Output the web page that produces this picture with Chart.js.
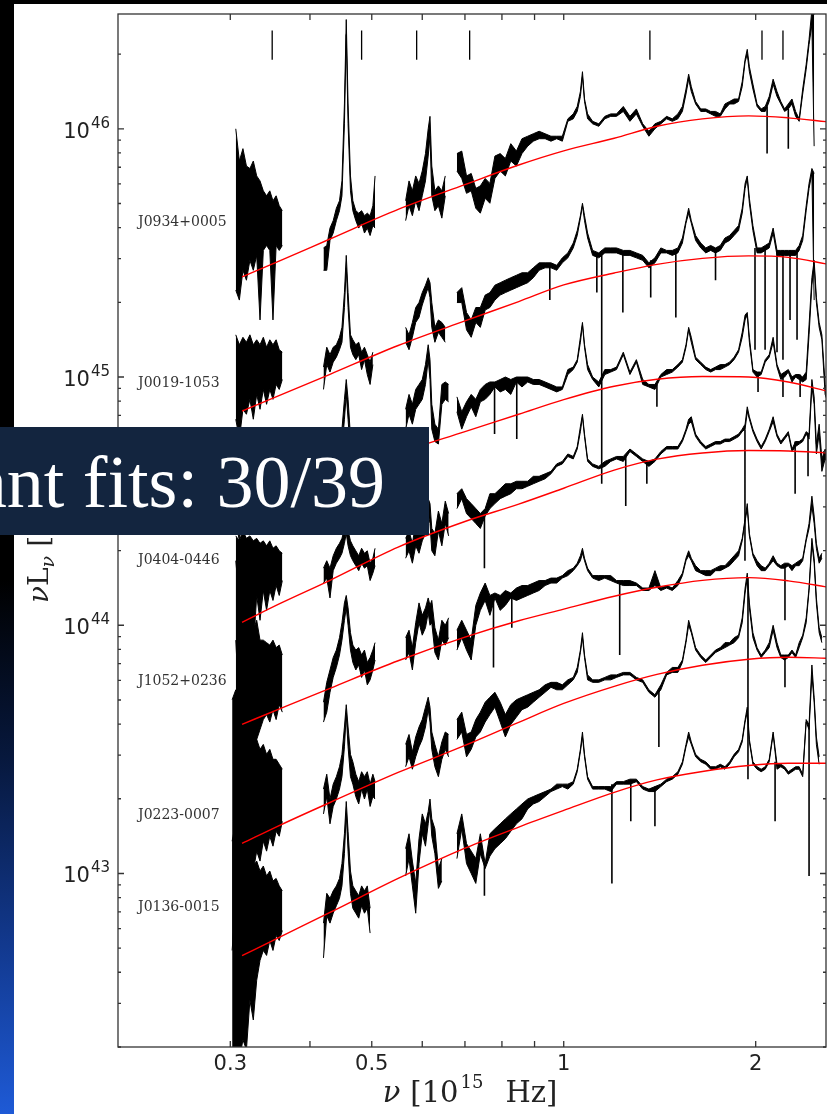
<!DOCTYPE html>
<html lang="en">
<head>
<meta charset="UTF-8">
<script src="https://cdn.jsdelivr.net/npm/chart.js@4.4.0/dist/chart.umd.min.js"></script>
<style>
  html, body { margin: 0; padding: 0; background: #fff; }
  body { width: 827px; height: 1114px; position: relative; overflow: hidden; }
  #sed { position: absolute; left: 0; top: 0; }
  .edge-left {
    position: absolute; left: 0; top: 0; width: 14px; height: 1114px;
    background: linear-gradient(to bottom, #000 0%, #000 52%, #07183d 68%, #12398f 85%, #1e5ad6 100%);
  }
  .edge-top { position: absolute; left: 0; top: 0; width: 827px; height: 4px; background: #000; }
  .banner {
    position: absolute; left: 0; top: 427px; width: 429px; height: 108px;
    background: #13253f; overflow: hidden;
  }
  .banner span {
    position: absolute; right: 44px; top: 18px;
    font: 74px/74px "Liberation Serif", "Times New Roman", serif;
    color: #fff; white-space: nowrap;
  }
</style>
</head>
<body>
<canvas id="sed" width="827" height="1114"></canvas>
<div class="edge-left"></div>
<div class="edge-top"></div>
<div class="banner"><span>Significant fits: 30/39</span></div>

<script>
// rest-frame frequency grid, 10^15 Hz; the single entries 0.39, 0.535 and 0.67
// are gaps between the spectral pieces
const nuGrid = [
  0.302, 0.306, 0.310, 0.314, 0.318, 0.322, 0.326, 0.330, 0.334, 0.338, 0.342, 0.346, 0.350, 0.354, 0.358, 0.362,
  0.39,
  0.420, 0.425, 0.430, 0.435, 0.440, 0.445, 0.449, 0.453, 0.456, 0.459, 0.463, 0.467, 0.472, 0.477, 0.482, 0.487, 0.492, 0.497, 0.502, 0.506,
  0.535,
  0.565, 0.572, 0.579, 0.586, 0.593, 0.600, 0.607, 0.613, 0.617, 0.621, 0.628, 0.636, 0.644, 0.652, 0.660,
  0.670,
  0.680, 0.692, 0.704, 0.716, 0.728, 0.740, 0.753, 0.766, 0.780, 0.795,
  0.810, 0.826, 0.843, 0.860, 0.878, 0.896, 0.915, 0.935, 0.955, 0.975,
  0.995, 1.015, 1.035, 1.050, 1.062, 1.070, 1.078, 1.090, 1.110, 1.135,
  1.160, 1.185, 1.210, 1.240, 1.270, 1.300, 1.330, 1.360, 1.390, 1.420,
  1.450, 1.480, 1.510, 1.535, 1.555, 1.570, 1.585, 1.610, 1.640, 1.670,
  1.700, 1.730, 1.760, 1.790, 1.820, 1.850, 1.880, 1.905, 1.925, 1.940,
  1.955, 1.980, 2.010, 2.040, 2.070, 2.100, 2.130, 2.160, 2.190, 2.220,
  2.250, 2.280, 2.310, 2.340, 2.370, 2.400, 2.425, 2.450, 2.470, 2.490,
  2.515, 2.540, 2.570, 2.600
];

// log10(nu L_nu / erg s^-1): upper (hi) and lower (lo) edge of each noisy spectrum
const hiJ0934 = [
  null, 46.00, 45.87, 45.92, 45.85, 45.84, 45.87, 45.81, 45.79, 45.75, 45.73, 45.75, 45.71, 45.73, 45.69, 45.67,
  null,
  45.52, 45.53, 45.60, 45.63, 45.68, 45.71, 45.79, 46.10, 46.44, 46.10, 45.81, 45.71, 45.67, 45.66, 45.67, 45.65, 45.66, 45.65, 45.69, 45.81,
  null,
  45.71, 45.79, 45.75, 45.81, 45.78, 45.83, 45.90, 46.00, 46.05, 45.85, 45.75, 45.77, 45.75, 45.81, null,
  null,
  45.90, 45.91, 45.81, 45.82, 45.76, 45.77, 45.80, 45.78, 45.89, 45.90,
  45.88, 45.94, 45.91, 45.96, 45.97, 45.98, 45.99, 45.98, 45.97, 45.97,
  45.97, 46.04, 46.06, 46.09, 46.15, 46.23, 46.12, 46.06, 46.03, 46.02,
  46.05, 46.06, 46.06, 46.09, 46.05, 46.08, 46.02, 45.99, 46.02, 46.03,
  46.05, 46.04, 46.06, 46.09, 46.16, 46.22, 46.17, 46.11, 46.08, 46.08,
  46.07, 46.07, 46.06, 46.10, 46.11, 46.12, 46.12, 46.19, 46.28, 46.32,
  46.25, 46.18, 46.10, 46.08, 46.09, 46.13, 46.20, 46.15, 46.11, 46.08,
  46.10, 46.12, 46.07, 46.04, 46.16, 46.26, 46.36, 46.48, 46.46, null,
  null, null, null, null
];
const loJ0934 = [
  null, 45.35, 45.31, 45.43, 45.39, 45.47, 45.43, 45.49, 45.23, 45.51, 45.53, 45.51, 45.23, 45.53, 45.51, 45.53,
  null,
  45.43, 45.43, 45.55, 45.58, 45.63, 45.67, 45.73, 46.02, 46.38, 46.02, 45.75, 45.67, 45.63, 45.60, 45.62, 45.58, 45.60, 45.57, 45.61, 45.60,
  null,
  45.63, 45.69, 45.65, 45.71, 45.67, 45.73, 45.79, 45.89, 45.97, 45.73, 45.67, 45.69, 45.64, 45.73, null,
  null,
  45.83, 45.80, 45.74, 45.75, 45.68, 45.66, 45.72, 45.70, 45.80, 45.83,
  45.81, 45.87, 45.85, 45.90, 45.93, 45.95, 45.96, 45.96, 45.95, 45.96,
  45.95, 46.03, 46.04, 46.07, 46.13, 46.21, 46.11, 46.04, 46.02, 46.01,
  46.04, 46.05, 46.05, 46.07, 46.03, 46.06, 46.01, 45.97, 46.00, 46.02,
  46.04, 46.03, 46.04, 46.07, 46.14, 46.20, 46.15, 46.10, 46.07, 46.07,
  46.06, 46.05, 46.05, 46.08, 46.10, 46.10, 46.11, 46.17, 46.27, 46.30,
  46.23, 46.16, 46.09, 46.07, 46.07, 46.11, 46.18, 46.13, 46.10, 46.07,
  46.08, 46.10, 46.05, 46.03, 46.14, 46.24, 46.34, 46.42, 45.93, null,
  null, null, null, null
];
const hiJ0019 = [
  null, 45.17, 45.13, 45.16, 45.14, 45.17, 45.13, 45.15, 45.13, 45.16, 45.12, 45.15, 45.13, 45.15, 45.11, 45.10,
  null,
  45.04, 45.12, 45.09, 45.12, 45.13, 45.16, 45.20, 45.34, 45.49, 45.34, 45.17, 45.15, 45.13, 45.14, 45.10, 45.12, 45.09, 45.06, 45.10, null,
  null,
  45.20, 45.17, 45.22, 45.28, 45.30, 45.34, 45.37, 45.40, 45.38, 45.30, 45.20, 45.23, 45.22, 45.20, null,
  null,
  45.34, 45.36, 45.26, 45.23, 45.28, 45.28, 45.33, 45.34, 45.37, 45.38,
  45.39, 45.40, 45.41, 45.42, 45.42, 45.44, 45.46, 45.46, 45.46, 45.45,
  45.48, 45.50, 45.54, 45.59, 45.65, 45.70, 45.65, 45.58, 45.51, 45.50,
  45.52, 45.52, 45.52, 45.51, 45.51, 45.50, 45.49, 45.46, 45.48, 45.52,
  45.51, 45.51, 45.52, 45.56, 45.63, 45.68, 45.63, 45.57, 45.54, 45.52,
  45.53, 45.52, 45.53, 45.56, 45.57, 45.59, 45.61, 45.68, 45.78, 45.81,
  45.72, 45.61, 45.52, 45.52, 45.53, 45.54, 45.60, 45.51, 45.51, 45.51,
  45.51, 45.51, 45.51, 45.53, 45.57, 45.69, 45.78, 45.84, 45.82, null,
  null, null, null, null
];
const loJ0019 = [
  null, 44.83, 44.75, 44.87, 44.85, 44.91, 44.83, 44.93, 44.87, 44.95, 44.89, 44.95, 44.91, 44.97, 44.95, 44.99,
  null,
  44.95, 45.05, 45.02, 45.06, 45.08, 45.11, 45.14, 45.28, 45.44, 45.28, 45.12, 45.09, 45.07, 45.09, 45.03, 45.07, 45.01, 44.97, 45.05, null,
  null,
  45.14, 45.11, 45.16, 45.22, 45.24, 45.29, 45.33, 45.36, 45.32, 45.20, 45.14, 45.18, 45.16, 45.14, null,
  null,
  45.30, 45.30, 45.19, 45.16, 45.22, 45.20, 45.27, 45.28, 45.31, 45.33,
  45.34, 45.35, 45.36, 45.37, 45.38, 45.40, 45.43, 45.44, 45.44, 45.43,
  45.46, 45.48, 45.52, 45.57, 45.64, 45.69, 45.63, 45.56, 45.49, 45.48,
  45.50, 45.50, 45.50, 45.49, 45.49, 45.48, 45.47, 45.44, 45.46, 45.50,
  45.50, 45.49, 45.50, 45.54, 45.62, 45.66, 45.62, 45.55, 45.52, 45.50,
  45.51, 45.50, 45.51, 45.54, 45.55, 45.57, 45.59, 45.66, 45.76, 45.80,
  45.70, 45.59, 45.50, 45.50, 45.51, 45.52, 45.58, 45.49, 45.49, 45.49,
  45.49, 45.49, 45.49, 45.51, 45.55, 45.67, 45.76, 45.82, 45.31, null,
  null, null, null, null
];
const hiJ1001 = [
  null, 44.75, 44.71, 44.77, 44.73, 44.75, 44.71, 44.75, 44.71, 44.74, 44.71, 44.75, 44.70, 44.73, 44.69, 44.69,
  null,
  44.63, 44.70, 44.67, 44.71, 44.72, 44.75, 44.79, 44.91, 44.99, 44.91, 44.76, 44.72, 44.71, 44.73, 44.69, 44.71, 44.67, 44.72, 44.70, null,
  null,
  44.87, 44.93, 44.89, 44.95, 44.97, 44.99, 45.05, 45.13, 45.07, 44.89, 44.81, 44.79, 44.97, 44.98, 44.97,
  null,
  44.92, 44.86, 44.90, 44.93, 44.91, 44.95, 44.97, 44.98, 44.98, 44.99,
  45.00, 44.99, 45.00, 45.00, 45.00, 44.99, 44.99, 44.98, 44.97, 44.96,
  44.96, 45.03, 45.04, 45.07, 45.16, 45.22, 45.13, 45.05, 45.00, 44.98,
  45.03, 45.03, 45.04, 45.10, 45.02, 45.07, 44.99, 44.97, 44.97, 45.01,
  45.03, 45.03, 45.05, 45.07, 45.13, 45.20, 45.16, 45.08, 45.06, 45.04,
  45.03, 45.04, 45.05, 45.05, 45.06, 45.08, 45.11, 45.18, 45.25, 45.26,
  45.16, 45.03, 45.02, 45.02, 45.07, 45.09, 45.16, 45.05, 45.01, 45.02,
  45.03, 45.00, 45.01, 45.01, 45.00, 45.02, 45.21, 45.40, 45.47, 45.32,
  45.22, 45.17, 44.97, 44.93
];
const loJ1001 = [
  null, 44.42, 44.34, 44.48, 44.44, 44.50, 44.46, 44.52, 44.48, 44.54, 44.50, 44.54, 44.52, 44.56, 44.54, 44.59,
  null,
  44.54, 44.62, 44.59, 44.63, 44.65, 44.68, 44.71, 44.83, 44.93, 44.83, 44.69, 44.65, 44.63, 44.65, 44.60, 44.63, 44.59, 44.65, 44.62, null,
  null,
  44.79, 44.85, 44.81, 44.87, 44.89, 44.91, 44.97, 45.07, 44.99, 44.79, 44.74, 44.73, 44.89, 44.91, 44.90,
  null,
  44.86, 44.79, 44.84, 44.88, 44.84, 44.90, 44.91, 44.93, 44.96, 44.94,
  44.95, 44.93, 44.98, 44.96, 44.98, 44.97, 44.97, 44.96, 44.95, 44.94,
  44.95, 45.01, 45.03, 45.06, 45.14, 45.21, 45.12, 45.03, 44.99, 44.96,
  45.01, 45.02, 45.03, 45.09, 45.01, 45.06, 44.97, 44.96, 44.95, 45.00,
  45.01, 45.02, 45.04, 45.06, 45.12, 45.19, 45.14, 45.07, 45.05, 45.03,
  45.02, 45.03, 45.03, 45.04, 45.05, 45.07, 45.10, 45.16, 45.23, 45.25,
  45.14, 45.02, 45.00, 45.01, 45.06, 45.08, 45.14, 45.04, 44.99, 45.00,
  45.02, 44.98, 45.00, 44.99, 44.98, 44.99, 45.17, 45.37, 45.45, 45.30,
  45.20, 45.15, 44.93, 44.89
];
const hiJ0404 = [
  null, 44.36, 44.34, 44.38, 44.35, 44.36, 44.34, 44.35, 44.33, 44.34, 44.32, 44.34, 44.31, 44.32, 44.30, 44.29,
  null,
  44.23, 44.26, 44.23, 44.28, 44.31, 44.33, 44.35, 44.39, 44.43, 44.38, 44.34, 44.32, 44.30, 44.28, 44.31, 44.29, 44.30, 44.25, 44.27, 44.31,
  null,
  44.35, 44.38, 44.33, 44.41, 44.37, 44.42, 44.45, 44.51, 44.49, 44.39, 44.37, 44.46, 44.41, 44.50, 44.45,
  null,
  44.53, 44.55, 44.51, 44.49, 44.47, 44.45, 44.47, 44.53, 44.53, 44.55,
  44.57, 44.57, 44.58, 44.58, 44.58, 44.60, 44.60, 44.61, 44.62, 44.65,
  44.66, 44.69, 44.68, 44.72, 44.80, 44.85, 44.77, 44.67, 44.65, 44.64,
  44.66, 44.67, 44.68, 44.68, 44.71, 44.69, 44.67, 44.66, 44.67, 44.70,
  44.72, 44.72, 44.72, 44.75, 44.79, 44.83, 44.84, 44.77, 44.74, 44.72,
  44.73, 44.74, 44.74, 44.75, 44.75, 44.76, 44.77, 44.79, 44.81, 44.88,
  44.84, 44.79, 44.75, 44.72, 44.75, 44.79, 44.84, 44.77, 44.74, 44.76,
  44.78, 44.71, 44.74, 44.74, 44.75, 44.78, 44.77, 44.99, 44.92, 44.73,
  44.81, 44.67, 44.71, 44.69
];
const loJ0404 = [
  null, 43.94, 43.66, 44.02, 43.46, 44.10, 43.90, 44.12, 44.02, 44.14, 44.06, 44.14, 44.10, 44.16, 44.12, 44.18,
  null,
  44.17, 44.19, 44.11, 44.22, 44.25, 44.27, 44.29, 44.33, 44.37, 44.32, 44.28, 44.26, 44.24, 44.22, 44.25, 44.23, 44.24, 44.18, 44.21, 44.24,
  null,
  44.27, 44.30, 44.25, 44.32, 44.29, 44.34, 44.37, 44.45, 44.41, 44.30, 44.28, 44.38, 44.32, 44.41, 44.36,
  null,
  44.47, 44.51, 44.45, 44.43, 44.41, 44.39, 44.44, 44.47, 44.49, 44.51,
  44.52, 44.53, 44.55, 44.55, 44.56, 44.57, 44.58, 44.59, 44.61, 44.64,
  44.65, 44.68, 44.67, 44.71, 44.78, 44.84, 44.76, 44.66, 44.64, 44.63,
  44.64, 44.66, 44.67, 44.66, 44.70, 44.68, 44.66, 44.64, 44.66, 44.69,
  44.71, 44.71, 44.71, 44.74, 44.78, 44.81, 44.82, 44.76, 44.73, 44.71,
  44.72, 44.73, 44.73, 44.74, 44.74, 44.75, 44.76, 44.78, 44.79, 44.86,
  44.83, 44.78, 44.74, 44.71, 44.74, 44.78, 44.82, 44.76, 44.73, 44.75,
  44.77, 44.70, 44.72, 44.73, 44.74, 44.77, 44.75, 44.96, 44.89, 44.69,
  44.77, 44.62, 44.67, 44.65
];
const hiJ1052 = [
  null, 44.26, 44.10, 44.18, 44.02, 44.10, 43.98, 44.02, 43.94, 43.94, 43.93, 43.92, 43.94, 43.91, 43.92, 43.88,
  null,
  43.69, 43.77, 43.82, 43.87, 43.90, 43.95, 44.01, 44.09, 44.12, 44.07, 43.97, 43.92, 43.90, 43.91, 43.88, 43.90, 43.85, 43.87, 43.90, 43.93,
  null,
  43.95, 43.98, 43.91, 44.01, 44.09, 44.04, 44.07, 44.11, 44.08, 44.10, 43.99, 43.94, 44.02, 44.00, 44.03,
  null,
  43.98, 44.02, 43.98, 43.94, 44.08, 44.13, 44.17, 44.12, 44.13, 44.12,
  44.14, 44.13, 44.15, 44.16, 44.16, 44.17, 44.18, 44.18, 44.19, 44.19,
  44.20, 44.22, 44.23, 44.25, 44.28, 44.31, 44.27, 44.23, 44.20, 44.20,
  44.20, 44.20, 44.18, 44.18, 44.18, 44.17, 44.15, 44.15, 44.22, 44.15,
  44.16, 44.15, 44.18, 44.21, 44.27, 44.30, 44.27, 44.24, 44.22, 44.22,
  44.22, 44.23, 44.24, 44.24, 44.26, 44.28, 44.30, 44.35, 44.43, 44.49,
  44.37, 44.29, 44.26, 44.24, 44.23, 44.25, 44.28, 44.25, 44.24, 44.25,
  44.25, 44.24, 44.25, 44.26, 44.27, 44.35, 44.41, 44.52, 44.44, 44.33,
  44.27, 44.29, null, null
];
const loJ1052 = [
  null, 43.29, 43.13, 43.38, 43.21, 43.46, 43.33, 43.54, 43.58, 43.62, 43.64, 43.61, 43.66, 43.62, 43.68, 43.65,
  null,
  43.61, 43.65, 43.73, 43.79, 43.83, 43.88, 43.94, 44.02, 44.07, 44.00, 43.90, 43.85, 43.82, 43.84, 43.79, 43.82, 43.76, 43.78, 43.82, 43.86,
  null,
  43.86, 43.89, 43.82, 43.93, 44.01, 43.96, 43.99, 44.05, 44.00, 44.01, 43.89, 43.86, 43.94, 43.92, 43.95,
  null,
  43.90, 43.95, 43.90, 43.86, 44.00, 44.06, 44.10, 44.04, 44.11, 44.06,
  44.08, 44.11, 44.10, 44.11, 44.12, 44.13, 44.14, 44.16, 44.17, 44.17,
  44.19, 44.20, 44.22, 44.24, 44.26, 44.29, 44.26, 44.22, 44.19, 44.18,
  44.19, 44.18, 44.17, 44.16, 44.16, 44.16, 44.14, 44.14, 44.16, 44.14,
  44.15, 44.14, 44.16, 44.20, 44.26, 44.28, 44.26, 44.22, 44.21, 44.20,
  44.20, 44.22, 44.22, 44.23, 44.24, 44.26, 44.28, 44.34, 44.42, 44.47,
  44.36, 44.28, 44.24, 44.22, 44.22, 44.24, 44.26, 44.24, 44.23, 44.23,
  44.24, 44.22, 44.24, 44.24, 44.26, 44.34, 44.39, 44.48, 44.41, 44.31,
  44.25, 44.27, null, null
];
const hiJ0223 = [
  43.70, 43.74, 43.62, 43.70, 43.58, 43.62, 43.54, 43.54, 43.50, 43.52, 43.48, 43.50, 43.46, 43.46, 43.44, 43.42,
  null,
  43.34, 43.40, 43.30, 43.36, 43.39, 43.43, 43.48, 43.59, 43.68, 43.59, 43.48, 43.45, 43.40, 43.37, 43.41, 43.39, 43.41, 43.36, 43.40, 43.37,
  null,
  43.52, 43.56, 43.49, 43.55, 43.59, 43.62, 43.67, 43.71, 43.67, 43.57, 43.52, 43.47, 43.53, 43.57, 43.56,
  null,
  43.62, 43.65, 43.56, 43.57, 43.62, 43.65, 43.69, 43.71, 43.73, 43.69,
  43.64, 43.68, 43.70, 43.71, 43.72, 43.73, 43.74, 43.76, 43.77, 43.77,
  43.76, 43.78, 43.79, 43.83, 43.90, 43.97, 43.88, 43.80, 43.78, 43.78,
  43.79, 43.80, 43.80, 43.81, 43.81, 43.79, 43.78, 43.74, 43.72, 43.76,
  43.81, 43.83, 43.83, 43.86, 43.94, 44.02, 43.98, 43.91, 43.88, 43.86,
  43.88, 43.90, 43.91, 43.93, 43.93, 43.95, 43.96, 44.03, 44.15, 44.21,
  44.09, 43.97, 43.91, 43.88, 43.90, 43.93, 44.00, 43.93, 43.88, 43.88,
  43.88, 43.90, 43.88, 43.93, 43.96, 44.03, 44.15, 44.35, 44.27, 44.11,
  43.99, 43.95, null, null
];
const loJ0223 = [
  42.69, 42.89, 42.65, 42.97, 42.89, 43.05, 43.01, 43.09, 43.05, 43.13, 43.09, 43.15, 43.11, 43.17, 43.15, 43.21,
  null,
  43.24, 43.31, 43.20, 43.27, 43.30, 43.34, 43.39, 43.51, 43.64, 43.51, 43.39, 43.36, 43.31, 43.28, 43.34, 43.30, 43.34, 43.27, 43.31, 43.30,
  null,
  43.43, 43.47, 43.42, 43.47, 43.51, 43.54, 43.59, 43.66, 43.61, 43.50, 43.43, 43.39, 43.46, 43.50, 43.47,
  null,
  43.54, 43.57, 43.47, 43.50, 43.55, 43.57, 43.61, 43.64, 43.67, 43.61,
  43.55, 43.60, 43.63, 43.66, 43.67, 43.69, 43.71, 43.73, 43.75, 43.74,
  43.74, 43.76, 43.78, 43.81, 43.89, 43.95, 43.87, 43.78, 43.77, 43.77,
  43.78, 43.78, 43.79, 43.80, 43.80, 43.78, 43.77, 43.73, 43.71, 43.74,
  43.80, 43.81, 43.81, 43.85, 43.93, 44.00, 43.97, 43.90, 43.87, 43.85,
  43.87, 43.89, 43.90, 43.91, 43.92, 43.93, 43.95, 44.01, 44.13, 44.19,
  44.07, 43.95, 43.90, 43.87, 43.89, 43.91, 43.98, 43.91, 43.87, 43.86,
  43.87, 43.89, 43.87, 43.91, 43.95, 44.01, 44.14, 44.33, 44.25, 44.09,
  43.97, 43.93, null, null
];
const hiJ0136 = [
  43.13, 43.21, 43.09, 43.13, 43.05, 43.09, 43.03, 43.05, 43.01, 43.03, 42.99, 43.01, 42.97, 42.98, 42.95, 42.93,
  null,
  42.80, 42.92, 42.90, 42.93, 42.95, 42.98, 43.04, 43.16, 43.29, 43.17, 43.01, 42.95, 42.93, 42.91, 42.95, 42.93, 42.95, 42.86, null, null,
  null,
  43.10, 43.16, 43.05, 42.96, 43.14, 43.24, 43.20, 43.25, 43.30, 43.22, 43.18, 43.02, 43.06, null, null,
  null,
  43.16, 43.24, 43.12, 43.09, 43.06, 43.16, 43.04, 43.16, 43.18, 43.20,
  43.22, 43.24, 43.26, 43.28, 43.30, 43.31, 43.32, 43.33, 43.34, 43.36,
  43.36, 43.36, 43.37, 43.42, 43.50, 43.57, 43.48, 43.39, 43.35, 43.35,
  43.35, 43.35, 43.37, 43.37, 43.38, 43.38, 43.35, 43.34, 43.35, 43.36,
  43.38, 43.39, 43.41, 43.45, 43.52, 43.57, 43.53, 43.48, 43.46, 43.45,
  43.43, 43.43, 43.44, 43.43, 43.45, 43.48, 43.50, 43.54, 43.62, 43.67,
  43.54, 43.45, 43.43, 43.42, 43.43, 43.46, 43.57, 43.44, 43.44, 43.43,
  43.41, 43.42, 43.43, 43.43, 43.40, 43.62, 43.60, 43.84, 43.71, 43.55,
  43.47, null, null, null
];
const loJ0136 = [
  42.25, 42.25, 42.25, 42.33, 42.29, 42.49, 42.41, 42.57, 42.65, 42.69, 42.67, 42.73, 42.69, 42.75, 42.73, 42.77,
  null,
  42.66, 42.83, 42.80, 42.84, 42.87, 42.90, 42.95, 43.08, 43.24, 43.09, 42.92, 42.86, 42.84, 42.82, 42.87, 42.84, 42.86, 42.76, null, null,
  null,
  42.99, 43.06, 42.95, 42.84, 43.04, 43.16, 43.11, 43.20, 43.26, 43.15, 43.08, 42.94, 42.97, null, null,
  null,
  43.06, 43.18, 43.04, 43.00, 42.96, 43.08, 43.02, 43.07, 43.10, 43.12,
  43.14, 43.17, 43.20, 43.22, 43.26, 43.28, 43.29, 43.31, 43.33, 43.34,
  43.35, 43.34, 43.36, 43.41, 43.49, 43.55, 43.47, 43.38, 43.34, 43.34,
  43.34, 43.33, 43.36, 43.36, 43.36, 43.37, 43.34, 43.33, 43.33, 43.35,
  43.37, 43.38, 43.40, 43.44, 43.51, 43.55, 43.52, 43.47, 43.45, 43.44,
  43.42, 43.42, 43.43, 43.42, 43.44, 43.47, 43.49, 43.53, 43.61, 43.65,
  43.53, 43.44, 43.42, 43.41, 43.42, 43.45, 43.56, 43.42, 43.43, 43.42,
  43.40, 43.41, 43.42, 43.42, 43.39, 43.61, 43.58, 43.80, 43.69, 43.52,
  43.44, null, null, null
];

// narrow absorption features: frequency, continuum level and depth (log10 nu L_nu)
const dipNu = [
  2.084, 2.250,
  0.951, 1.127, 1.147, 1.238, 1.369, 1.499, 1.730, 1.995, 2.069, 2.160, 2.207, 2.264, 2.322,
  0.779, 0.844, 1.400, 2.017, 2.207, 2.348,
  0.751, 1.251, 1.350, 1.924, 2.306, 2.416,
  0.776, 0.829, 1.224, 2.223,
  1.410, 1.945, 2.223,
  0.751, 1.190, 1.274, 1.390, 2.145, 2.425
];
const dipTop = [
  46.09, 46.08,
  45.45, 45.50, 45.51, 45.50, 45.47, 45.50, 45.52, 45.52, 45.52, 45.51, 45.51, 45.51, 45.51,
  44.97, 44.98, 44.97, 45.02, 45.01, 45.01,
  44.45, 44.68, 44.66, 44.79, 44.74, 44.77,
  44.12, 44.12, 44.17, 44.24,
  43.74, 44.19, 43.88,
  43.04, 43.36, 43.37, 43.35, 43.45, 43.60
];
const dipBottom = [
  45.90, 45.92,
  45.31, 45.34, 44.57, 45.26, 45.32, 45.24, 45.39, 45.11, 45.11, 45.10, 45.07, 45.23, 45.15,
  44.77, 44.75, 44.88, 44.94, 44.92, 44.92,
  44.23, 44.48, 44.57, 44.26, 44.53, 44.60,
  43.83, 43.99, 43.88, 44.02,
  43.51, 43.38, 43.75,
  42.91, 42.96, 43.21, 43.19, 43.21, 42.99
];

// accretion-disc model fits, log10 nu L_nu on fitNu
const fitNu = [0.313, 0.36, 0.43, 0.55, 0.70, 0.85, 1.00, 1.20, 1.40, 1.65, 1.95, 2.25, 2.60];
const fitJ0934 = [45.403, 45.470, 45.556, 45.675, 45.775, 45.854, 45.911, 45.962, 46.010, 46.040, 46.052, 46.044, 46.028];
const fitJ0019 = [44.863, 44.928, 45.011, 45.127, 45.226, 45.304, 45.371, 45.419, 45.454, 45.478, 45.488, 45.482, 45.454];
const fitJ1001 = [44.423, 44.490, 44.577, 44.692, 44.780, 44.850, 44.909, 44.963, 44.991, 45.002, 45.000, 44.980, 44.942];
const fitJ0404 = [44.012, 44.089, 44.181, 44.315, 44.418, 44.488, 44.552, 44.625, 44.669, 44.694, 44.704, 44.702, 44.694];
const fitJ1052 = [43.601, 43.665, 43.746, 43.857, 43.952, 44.018, 44.065, 44.117, 44.153, 44.181, 44.192, 44.179, 44.153];
const fitJ0223 = [43.121, 43.196, 43.286, 43.407, 43.516, 43.609, 43.685, 43.754, 43.802, 43.839, 43.863, 43.871, 43.867];
const fitJ0136 = [42.669, 42.746, 42.843, 42.980, 43.102, 43.187, 43.254, 43.327, 43.377, 43.411, 43.435, 43.444, 43.444];

// object names and where they sit (log10 nu L_nu at labelNu)
const names = ['J0934+0005', 'J0019-1053', 'J0404-0446', 'J1052+0236', 'J0223-0007', 'J0136-0015'];
const nameLum = [45.625, 44.976, 44.262, 43.774, 43.234, 42.863];
const labelNu = 0.215;

// continuum windows marked along the top
const windowNu = [0.349, 0.482, 0.588, 0.712, 1.365, 2.046, 2.207];
const windowSpan = [46.278, 46.396];

// axes
const xRange = [0.2, 2.578];
const yRange = [2e42, 2.9e46];
const xTicks = [0.3, 0.4, 0.5, 0.6, 0.7, 0.8, 0.9, 1, 2];
const xTickLabels = [0.3, 0.5, 1, 2];
const yDecades = [43, 44, 45, 46];

const lum = v => (v === null ? null : Math.pow(10, v));
const spectrum = vals => nuGrid.map((nu, i) => ({ x: nu, y: lum(vals[i]) }));
const model = vals => fitNu.map((nu, i) => ({ x: nu, y: lum(vals[i]) }));
const sticks = (nus, from, to) => nus.flatMap((nu, i) => [
  { x: nu, y: lum(from[i]) }, { x: nu, y: lum(to[i]) }, { x: nu, y: null }
]);

const quasars = [
  [hiJ0934, loJ0934, fitJ0934],
  [hiJ0019, loJ0019, fitJ0019],
  [hiJ1001, loJ1001, fitJ1001],
  [hiJ0404, loJ0404, fitJ0404],
  [hiJ1052, loJ1052, fitJ1052],
  [hiJ0223, loJ0223, fitJ0223],
  [hiJ0136, loJ0136, fitJ0136]
];

const datasets = [];
quasars.forEach(([hi, lo, fit]) => {
  datasets.push({ data: model(fit), showLine: true, borderColor: '#ff0000', borderWidth: 1.4,
                  pointRadius: 0, cubicInterpolationMode: 'monotone', order: 0 });
});
quasars.forEach(([hi, lo]) => {
  // lower edge, then upper edge filled down to it
  datasets.push({ data: spectrum(lo), showLine: true, borderColor: '#000', borderWidth: 1,
                  pointRadius: 0, order: 1 });
  datasets.push({ data: spectrum(hi), showLine: true, borderColor: '#000', borderWidth: 1,
                  pointRadius: 0, order: 1, fill: '-1', backgroundColor: '#000' });
});
datasets.push({ data: sticks(dipNu, dipTop, dipBottom), showLine: true, borderColor: '#000',
                borderWidth: 1.6, pointRadius: 0, order: 1 });
datasets.push({
  data: sticks(windowNu, windowNu.map(() => windowSpan[0]), windowNu.map(() => windowSpan[1])),
  showLine: true, borderColor: '#000', borderWidth: 1.3, pointRadius: 0, order: 2
});

// matplotlib-like frame: inward ticks on all sides, decade labels, annotations
const frame = {
  id: 'frame',
  afterDraw(chart) {
    const { ctx, chartArea: a } = chart;
    const x = chart.scales.x, y = chart.scales.y;
    ctx.save();

    ctx.strokeStyle = '#333';
    ctx.lineWidth = 1.3;
    ctx.strokeRect(a.left, a.top, a.right - a.left, a.bottom - a.top);

    ctx.beginPath();
    xTicks.forEach(v => {
      const px = x.getPixelForValue(v);
      ctx.moveTo(px, a.bottom); ctx.lineTo(px, a.bottom - 6);
      ctx.moveTo(px, a.top); ctx.lineTo(px, a.top + 6);
    });
    for (let n = 42; n <= 46; n++) {
      for (let k = 1; k <= 9; k++) {
        const v = k * Math.pow(10, n);
        if (v < yRange[0] || v > yRange[1]) continue;
        const py = y.getPixelForValue(v);
        const len = k === 1 ? 6 : 3;
        ctx.moveTo(a.left, py); ctx.lineTo(a.left + len, py);
        ctx.moveTo(a.right, py); ctx.lineTo(a.right - len, py);
      }
    }
    ctx.stroke();

    ctx.fillStyle = '#222';
    ctx.font = '21px "DejaVu Sans"';
    ctx.textAlign = 'center';
    ctx.textBaseline = 'alphabetic';
    xTickLabels.forEach(v => ctx.fillText(String(v), x.getPixelForValue(v), a.bottom + 23));

    ctx.textAlign = 'right';
    yDecades.forEach(n => {
      const py = y.getPixelForValue(Math.pow(10, n));
      ctx.font = '15px "DejaVu Sans"';
      const ew = ctx.measureText(String(n)).width;
      ctx.fillText(String(n), a.left - 8, py - 1);
      ctx.font = '21px "DejaVu Sans"';
      ctx.fillText('10', a.left - 9 - ew, py + 9);
    });

    // object names
    ctx.fillStyle = '#333';
    ctx.font = '14px "DejaVu Serif"';
    ctx.textAlign = 'left';
    ctx.textBaseline = 'middle';
    names.forEach((name, i) => {
      ctx.fillText(name, x.getPixelForValue(labelNu), y.getPixelForValue(lum(nameLum[i])));
    });

    // x title: nu [10^15  Hz]
    ctx.fillStyle = '#222';
    ctx.textBaseline = 'alphabetic';
    const parts = [
      { t: '\u03bd', f: 'italic 29px "DejaVu Serif"', dy: 0, gap: 10 },
      { t: '[10', f: '29px "DejaVu Serif"', dy: 0, gap: 2 },
      { t: '15', f: '18px "DejaVu Serif"', dy: -14, gap: 22 },
      { t: 'Hz]', f: '29px "DejaVu Serif"', dy: 0, gap: 0 }
    ];
    let total = 0;
    parts.forEach(p => { ctx.font = p.f; p.w = ctx.measureText(p.t).width; total += p.w + p.gap; });
    let cx = 470 - total / 2;
    ctx.textAlign = 'left';
    parts.forEach(p => { ctx.font = p.f; ctx.fillText(p.t, cx, 1102 + p.dy); cx += p.w + p.gap; });

    // y title, rotated: nu L_nu [erg/s]
    ctx.translate(48, 603);
    ctx.rotate(-Math.PI / 2);
    const yparts = [
      { t: '\u03bd', f: 'italic 28px "DejaVu Serif"', dy: 0, gap: 0 },
      { t: 'L', f: '28px "DejaVu Serif"', dy: 0, gap: 0 },
      { t: '\u03bd', f: 'italic 19px "DejaVu Serif"', dy: 6, gap: 9 },
      { t: '[erg/s]', f: '28px "DejaVu Serif"', dy: 0, gap: 0 }
    ];
    let cy = 0;
    yparts.forEach(p => { ctx.font = p.f; ctx.fillText(p.t, cy, p.dy); cy += ctx.measureText(p.t).width + p.gap; });

    ctx.restore();
  }
};

new Chart(document.getElementById('sed'), {
  type: 'scatter',
  data: { datasets },
  options: {
    responsive: false,
    animation: false,
    devicePixelRatio: 1,
    layout: { padding: { left: 118, top: 14, right: 1, bottom: 67 } },
    plugins: { legend: { display: false }, tooltip: { enabled: false } },
    scales: {
      x: { type: 'logarithmic', min: xRange[0], max: xRange[1], display: false },
      y: { type: 'logarithmic', min: yRange[0], max: yRange[1], display: false }
    }
  },
  plugins: [frame]
});
</script>
</body>
</html>
